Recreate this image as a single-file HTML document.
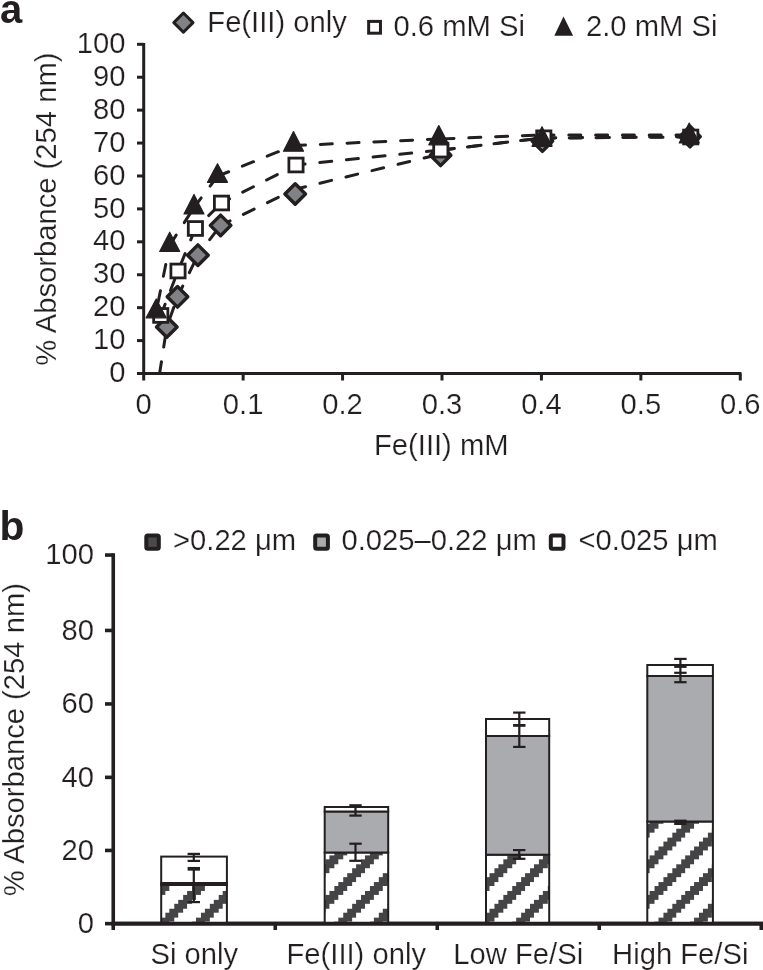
<!DOCTYPE html>
<html><head><meta charset="utf-8"><style>html,body{margin:0;padding:0;background:#fff;overflow:hidden}svg{display:block}</style></head>
<body><div style="will-change:transform;width:763px;height:970px"><svg width="763" height="970" viewBox="0 0 763 970" font-family="'Liberation Sans', sans-serif" fill="#231f20">
<style>text{stroke:#fff;stroke-width:0.2px} text.lab{stroke:none}</style>
<defs><pattern id="hat" patternUnits="userSpaceOnUse" x="338.3" y="921.6" width="35.576" height="35.576"><rect width="35.576" height="35.576" fill="#fff"/><g fill="#444446" shape-rendering="crispEdges"><rect x="31.129" y="0.000" width="4.447" height="4.447"/><rect x="0.000" y="0.000" width="4.447" height="4.447"/><rect x="4.447" y="0.000" width="4.447" height="4.447"/><rect x="26.682" y="4.447" width="4.447" height="4.447"/><rect x="31.129" y="4.447" width="4.447" height="4.447"/><rect x="0.000" y="4.447" width="4.447" height="4.447"/><rect x="22.235" y="8.894" width="4.447" height="4.447"/><rect x="26.682" y="8.894" width="4.447" height="4.447"/><rect x="31.129" y="8.894" width="4.447" height="4.447"/><rect x="17.788" y="13.341" width="4.447" height="4.447"/><rect x="22.235" y="13.341" width="4.447" height="4.447"/><rect x="26.682" y="13.341" width="4.447" height="4.447"/><rect x="13.341" y="17.788" width="4.447" height="4.447"/><rect x="17.788" y="17.788" width="4.447" height="4.447"/><rect x="22.235" y="17.788" width="4.447" height="4.447"/><rect x="8.894" y="22.235" width="4.447" height="4.447"/><rect x="13.341" y="22.235" width="4.447" height="4.447"/><rect x="17.788" y="22.235" width="4.447" height="4.447"/><rect x="4.447" y="26.682" width="4.447" height="4.447"/><rect x="8.894" y="26.682" width="4.447" height="4.447"/><rect x="13.341" y="26.682" width="4.447" height="4.447"/><rect x="0.000" y="31.129" width="4.447" height="4.447"/><rect x="4.447" y="31.129" width="4.447" height="4.447"/><rect x="8.894" y="31.129" width="4.447" height="4.447"/></g></pattern></defs>
<path d="M143.7 43.09999999999995V373.5H741.48" fill="none" stroke="#231f20" stroke-width="3.0" stroke-linejoin="miter"/>
<path d="M137 373.50H143.7" stroke="#231f20" stroke-width="3.0"/>
<text x="125.5" y="382.10" text-anchor="end" font-size="29.2">0</text>
<path d="M137 340.58H143.7" stroke="#231f20" stroke-width="3.0"/>
<text x="125.5" y="349.18" text-anchor="end" font-size="29.2">10</text>
<path d="M137 307.66H143.7" stroke="#231f20" stroke-width="3.0"/>
<text x="125.5" y="316.26" text-anchor="end" font-size="29.2">20</text>
<path d="M137 274.74H143.7" stroke="#231f20" stroke-width="3.0"/>
<text x="125.5" y="283.34" text-anchor="end" font-size="29.2">30</text>
<path d="M137 241.82H143.7" stroke="#231f20" stroke-width="3.0"/>
<text x="125.5" y="250.42" text-anchor="end" font-size="29.2">40</text>
<path d="M137 208.90H143.7" stroke="#231f20" stroke-width="3.0"/>
<text x="125.5" y="217.50" text-anchor="end" font-size="29.2">50</text>
<path d="M137 175.98H143.7" stroke="#231f20" stroke-width="3.0"/>
<text x="125.5" y="184.58" text-anchor="end" font-size="29.2">60</text>
<path d="M137 143.06H143.7" stroke="#231f20" stroke-width="3.0"/>
<text x="125.5" y="151.66" text-anchor="end" font-size="29.2">70</text>
<path d="M137 110.14H143.7" stroke="#231f20" stroke-width="3.0"/>
<text x="125.5" y="118.74" text-anchor="end" font-size="29.2">80</text>
<path d="M137 77.22H143.7" stroke="#231f20" stroke-width="3.0"/>
<text x="125.5" y="85.82" text-anchor="end" font-size="29.2">90</text>
<path d="M137 44.30H143.7" stroke="#231f20" stroke-width="3.0"/>
<text x="125.5" y="52.90" text-anchor="end" font-size="29.2">100</text>
<path d="M143.70 373.5V380.5" stroke="#231f20" stroke-width="3.0"/>
<text x="143.70" y="414" text-anchor="middle" font-size="29.2">0</text>
<path d="M243.13 373.5V380.5" stroke="#231f20" stroke-width="3.0"/>
<text x="243.13" y="414" text-anchor="middle" font-size="29.2">0.1</text>
<path d="M342.56 373.5V380.5" stroke="#231f20" stroke-width="3.0"/>
<text x="342.56" y="414" text-anchor="middle" font-size="29.2">0.2</text>
<path d="M441.99 373.5V380.5" stroke="#231f20" stroke-width="3.0"/>
<text x="441.99" y="414" text-anchor="middle" font-size="29.2">0.3</text>
<path d="M541.42 373.5V380.5" stroke="#231f20" stroke-width="3.0"/>
<text x="541.42" y="414" text-anchor="middle" font-size="29.2">0.4</text>
<path d="M640.85 373.5V380.5" stroke="#231f20" stroke-width="3.0"/>
<text x="640.85" y="414" text-anchor="middle" font-size="29.2">0.5</text>
<path d="M740.28 373.5V380.5" stroke="#231f20" stroke-width="3.0"/>
<text x="740.28" y="414" text-anchor="middle" font-size="29.2">0.6</text>
<text x="374" y="455.2" font-size="29.2">Fe(III) mM</text>
<text transform="translate(55.9 209.15) rotate(-90)" text-anchor="middle" font-size="29.2">% Absorbance (254 nm)</text>
<text x="0" y="22.6" class="lab" font-size="40" font-weight="bold">a</text>
<path d="M183.4 13.000000000000002L193.0 22.6L183.4 32.2L173.8 22.6Z" fill="#808285" stroke="#231f20" stroke-width="3" stroke-linejoin="round"/>
<text x="207.3" y="31.8" font-size="29.2">Fe(III) only</text>
<rect x="368.65" y="21.40" width="11.8" height="11.8" fill="#fff" stroke="#231f20" stroke-width="3"/>
<text x="393.5" y="35.8" font-size="29.2">0.6 mM Si</text>
<path d="M563.5 16.6L573.1 35.7L554.3 35.7Z" fill="#231f20"/>
<text x="586" y="35.8" font-size="29.2">2.0 mM Si</text>
<clipPath id="pa"><rect x="143.7" y="30" width="620" height="343.5"/></clipPath>
<g clip-path="url(#pa)" fill="none" stroke="#231f20" stroke-width="3.0" stroke-dasharray="12 14.8" stroke-linecap="round">
<path d="M155.50 400.00L166.80 327.00"/>
<path d="M166.80 327.00L177.50 296.80" stroke-dashoffset="-9.00"/>
<path d="M177.50 296.80L197.90 255.20"/>
<path d="M197.90 255.20L220.60 225.40" stroke-dashoffset="-19.50"/>
<path d="M220.60 225.40L295.20 189.20" stroke-dashoffset="1.50"/>
<path d="M295.20 189.20L440.60 154.00" stroke-dashoffset="1.40"/>
<path d="M440.80 150.10L543.80 137.80"/>
<path d="M542.40 138.40L690.00 136.60"/>
<path d="M160.75 315.45L178.00 271.00"/>
<path d="M178.00 271.00L195.40 228.50" stroke-dashoffset="-6.80"/>
<path d="M195.40 228.50L221.50 203.00" stroke-dashoffset="-18.50"/>
<path d="M221.50 203.00L296.00 165.00" stroke-dashoffset="3.00"/>
<path d="M296.00 165.00L440.80 150.10" stroke-dashoffset="2.90"/>
<path d="M440.80 150.10L543.80 137.80" stroke-dashoffset="-1.70"/>
<path d="M543.80 137.80L690.75 137.00"/>
<path d="M156.20 311.67L169.70 245.20" stroke-dashoffset="-9.30"/>
<path d="M169.70 245.20L194.00 207.53"/>
<path d="M194.00 207.53L217.50 176.23"/>
<path d="M217.50 176.23L293.50 145.60"/>
<path d="M293.50 145.60L438.80 139.00"/>
<path d="M438.80 139.00L542.00 135.00" stroke-dashoffset="-3.20"/>
<path d="M542.00 135.00L689.20 135.00"/>
</g>
<path d="M166.8 316.7L177.10000000000002 327.0L166.8 337.3L156.5 327.0Z" fill="#808285" stroke="#231f20" stroke-width="3.4" stroke-linejoin="round"/>
<path d="M177.5 286.5L187.8 296.8L177.5 307.1L167.2 296.8Z" fill="#808285" stroke="#231f20" stroke-width="3.4" stroke-linejoin="round"/>
<path d="M197.9 244.89999999999998L208.20000000000002 255.2L197.9 265.5L187.6 255.2Z" fill="#808285" stroke="#231f20" stroke-width="3.4" stroke-linejoin="round"/>
<path d="M220.6 215.1L230.9 225.4L220.6 235.70000000000002L210.29999999999998 225.4Z" fill="#808285" stroke="#231f20" stroke-width="3.4" stroke-linejoin="round"/>
<path d="M295.2 183.7L305.5 194.0L295.2 204.3L284.9 194.0Z" fill="#808285" stroke="#231f20" stroke-width="3.4" stroke-linejoin="round"/>
<path d="M440.6 145.0L450.90000000000003 155.3L440.6 165.60000000000002L430.3 155.3Z" fill="#808285" stroke="#231f20" stroke-width="3.4" stroke-linejoin="round"/>
<path d="M542.4 130.79999999999998L552.6999999999999 141.1L542.4 151.4L532.1 141.1Z" fill="#808285" stroke="#231f20" stroke-width="3.4" stroke-linejoin="round"/>
<path d="M690 126.3L700.3 136.6L690 146.9L679.7 136.6Z" fill="#808285" stroke="#231f20" stroke-width="3.4" stroke-linejoin="round"/>
<rect x="153.65" y="308.55" width="14.2" height="13.8" fill="#fff" stroke="#231f20" stroke-width="2.8"/>
<rect x="170.90" y="264.10" width="14.2" height="13.8" fill="#fff" stroke="#231f20" stroke-width="2.8"/>
<rect x="188.30" y="221.60" width="14.2" height="13.8" fill="#fff" stroke="#231f20" stroke-width="2.8"/>
<rect x="214.40" y="196.10" width="14.2" height="13.8" fill="#fff" stroke="#231f20" stroke-width="2.8"/>
<rect x="288.90" y="158.10" width="14.2" height="13.8" fill="#fff" stroke="#231f20" stroke-width="2.8"/>
<rect x="433.70" y="143.20" width="14.2" height="13.8" fill="#fff" stroke="#231f20" stroke-width="2.8"/>
<rect x="536.70" y="130.90" width="14.2" height="13.8" fill="#fff" stroke="#231f20" stroke-width="2.8"/>
<rect x="683.65" y="130.10" width="14.2" height="13.8" fill="#fff" stroke="#231f20" stroke-width="2.8"/>
<path d="M156.2 299.0L166.2 317.8L146.2 317.8Z" fill="#231f20" stroke="#231f20" stroke-width="1.2" stroke-linejoin="round"/>
<path d="M169.7 232.2L179.7 251.5L159.7 251.5Z" fill="#231f20" stroke="#231f20" stroke-width="1.2" stroke-linejoin="round"/>
<path d="M194.0 194.4L204.0 213.9L184.0 213.9Z" fill="#231f20" stroke="#231f20" stroke-width="1.2" stroke-linejoin="round"/>
<path d="M217.5 163.7L227.5 182.3L207.5 182.3Z" fill="#231f20" stroke="#231f20" stroke-width="1.2" stroke-linejoin="round"/>
<path d="M293.5 131.6L303.5 151.2L283.5 151.2Z" fill="#231f20" stroke="#231f20" stroke-width="1.2" stroke-linejoin="round"/>
<path d="M438.8 125.6L448.8 144.8L428.8 144.8Z" fill="#231f20" stroke="#231f20" stroke-width="1.2" stroke-linejoin="round"/>
<path d="M542.0 126.8L552.0 146.3L532.0 146.3Z" fill="#231f20" stroke="#231f20" stroke-width="1.2" stroke-linejoin="round"/>
<path d="M689.2 123.1L699.2 143.0L679.2 143.0Z" fill="#231f20" stroke="#231f20" stroke-width="1.2" stroke-linejoin="round"/>
<path d="M113.25 553.25V923.65H763" fill="none" stroke="#231f20" stroke-width="3.6"/>
<path d="M105 923.65H113.25" stroke="#231f20" stroke-width="3.6"/>
<text x="94" y="933.05" text-anchor="end" font-size="29.2">0</text>
<path d="M105 850.45H113.25" stroke="#231f20" stroke-width="3.6"/>
<text x="94" y="859.85" text-anchor="end" font-size="29.2">20</text>
<path d="M105 777.35H113.25" stroke="#231f20" stroke-width="3.6"/>
<text x="94" y="786.75" text-anchor="end" font-size="29.2">40</text>
<path d="M105 703.95H113.25" stroke="#231f20" stroke-width="3.6"/>
<text x="94" y="713.35" text-anchor="end" font-size="29.2">60</text>
<path d="M105 630.45H113.25" stroke="#231f20" stroke-width="3.6"/>
<text x="94" y="639.85" text-anchor="end" font-size="29.2">80</text>
<path d="M105 555.05H113.25" stroke="#231f20" stroke-width="3.6"/>
<text x="94" y="564.45" text-anchor="end" font-size="29.2">100</text>
<path d="M113.25 923.65V930" stroke="#231f20" stroke-width="3.6"/>
<path d="M275.25 923.65V930" stroke="#231f20" stroke-width="3.6"/>
<path d="M437.25 923.65V930" stroke="#231f20" stroke-width="3.6"/>
<path d="M599.25 923.65V930" stroke="#231f20" stroke-width="3.6"/>
<path d="M761.25 923.65V930" stroke="#231f20" stroke-width="3.6"/>
<text x="194.25" y="963.6" text-anchor="middle" font-size="29.2">Si only</text>
<text x="356.25" y="963.6" text-anchor="middle" font-size="29.2">Fe(III) only</text>
<text x="518.25" y="963.6" text-anchor="middle" font-size="29.2">Low Fe/Si</text>
<text x="680.25" y="963.6" text-anchor="middle" font-size="29.2">High Fe/Si</text>
<text transform="translate(23.8 739.65) rotate(-90)" text-anchor="middle" font-size="29.2">% Absorbance (254 nm)</text>
<text x="-0.6" y="539.7" class="lab" font-size="40.8" font-weight="bold">b</text>
<rect x="161.2" y="885.0" width="65.70000000000002" height="38.64999999999998" fill="url(#hat)" stroke="#231f20" stroke-width="2"/>
<rect x="161.2" y="883.0" width="65.70000000000002" height="2.0" fill="#aaabae" stroke="#231f20" stroke-width="2"/>
<rect x="161.2" y="856.6" width="65.70000000000002" height="26.399999999999977" fill="#fff" stroke="#231f20" stroke-width="2"/>
<rect x="324.7" y="852.5" width="63.5" height="71.14999999999998" fill="url(#hat)" stroke="#231f20" stroke-width="2"/>
<rect x="324.7" y="811.5" width="63.5" height="41.0" fill="#aaabae" stroke="#231f20" stroke-width="2"/>
<rect x="324.7" y="807.0" width="63.5" height="4.5" fill="#fff" stroke="#231f20" stroke-width="2"/>
<rect x="486.0" y="854.7" width="63.200000000000045" height="68.94999999999993" fill="url(#hat)" stroke="#231f20" stroke-width="2"/>
<rect x="486.0" y="736.0" width="63.200000000000045" height="118.70000000000005" fill="#aaabae" stroke="#231f20" stroke-width="2"/>
<rect x="486.0" y="719.0" width="63.200000000000045" height="17.0" fill="#fff" stroke="#231f20" stroke-width="2"/>
<rect x="647.3" y="821.5" width="65.60000000000002" height="102.14999999999998" fill="url(#hat)" stroke="#231f20" stroke-width="2"/>
<rect x="647.3" y="676.0" width="65.60000000000002" height="145.5" fill="#aaabae" stroke="#231f20" stroke-width="2"/>
<rect x="647.3" y="665.0" width="65.60000000000002" height="11.0" fill="#fff" stroke="#231f20" stroke-width="2"/>
<path d="M111.45 923.65H763" stroke="#231f20" stroke-width="3.6"/>
<rect x="192.70" y="853.90" width="2.20" height="7.00" fill="#231f20"/>
<rect x="187.60" y="852.80" width="12.40" height="2.20" fill="#231f20"/>
<rect x="187.60" y="859.80" width="12.40" height="2.20" fill="#231f20"/>
<rect x="192.70" y="868.80" width="2.20" height="33.30" fill="#231f20"/>
<rect x="187.60" y="866.95" width="12.40" height="3.70" fill="#231f20"/>
<rect x="187.60" y="901.00" width="12.40" height="2.20" fill="#231f20"/>
<rect x="354.40" y="805.50" width="2.20" height="10.10" fill="#231f20"/>
<rect x="349.30" y="804.20" width="12.40" height="2.60" fill="#231f20"/>
<rect x="349.30" y="814.50" width="12.40" height="2.20" fill="#231f20"/>
<rect x="354.40" y="843.70" width="2.20" height="17.10" fill="#231f20"/>
<rect x="349.30" y="842.60" width="12.40" height="2.20" fill="#231f20"/>
<rect x="349.30" y="859.70" width="12.40" height="2.20" fill="#231f20"/>
<rect x="518.20" y="712.60" width="2.20" height="34.30" fill="#231f20"/>
<rect x="513.10" y="711.50" width="12.40" height="2.20" fill="#231f20"/>
<rect x="513.10" y="724.00" width="12.40" height="2.80" fill="#231f20"/>
<rect x="513.10" y="745.80" width="12.40" height="2.20" fill="#231f20"/>
<rect x="518.10" y="850.10" width="2.20" height="8.70" fill="#231f20"/>
<rect x="513.00" y="849.00" width="12.40" height="2.20" fill="#231f20"/>
<rect x="513.00" y="857.70" width="12.40" height="2.20" fill="#231f20"/>
<rect x="679.30" y="658.90" width="2.20" height="23.30" fill="#231f20"/>
<rect x="674.20" y="657.80" width="12.40" height="2.20" fill="#231f20"/>
<rect x="674.20" y="665.70" width="12.40" height="2.20" fill="#231f20"/>
<rect x="674.20" y="671.70" width="12.40" height="2.20" fill="#231f20"/>
<rect x="674.20" y="681.10" width="12.40" height="2.20" fill="#231f20"/>
<rect x="674.2" y="819.6" width="12.4" height="5.4" fill="#231f20"/>
<rect x="146.3" y="535.5" width="12.5" height="13.200000000000045" rx="1.5" fill="#4a4a4c" stroke="#231f20" stroke-width="4"/>
<text x="173" y="550.2" font-size="29.2">&gt;0.22 μm</text>
<rect x="315.2" y="535.4" width="12.699999999999989" height="13.300000000000068" rx="1.5" fill="#aaabae" stroke="#231f20" stroke-width="4"/>
<text x="341.5" y="550.2" font-size="29.2">0.025–0.22 μm</text>
<rect x="550.8" y="535.4" width="12.700000000000045" height="13.300000000000068" rx="1.5" fill="#fff" stroke="#231f20" stroke-width="4"/>
<text x="578.5" y="550.2" font-size="29.2">&lt;0.025 μm</text>
</svg></div></body></html>
